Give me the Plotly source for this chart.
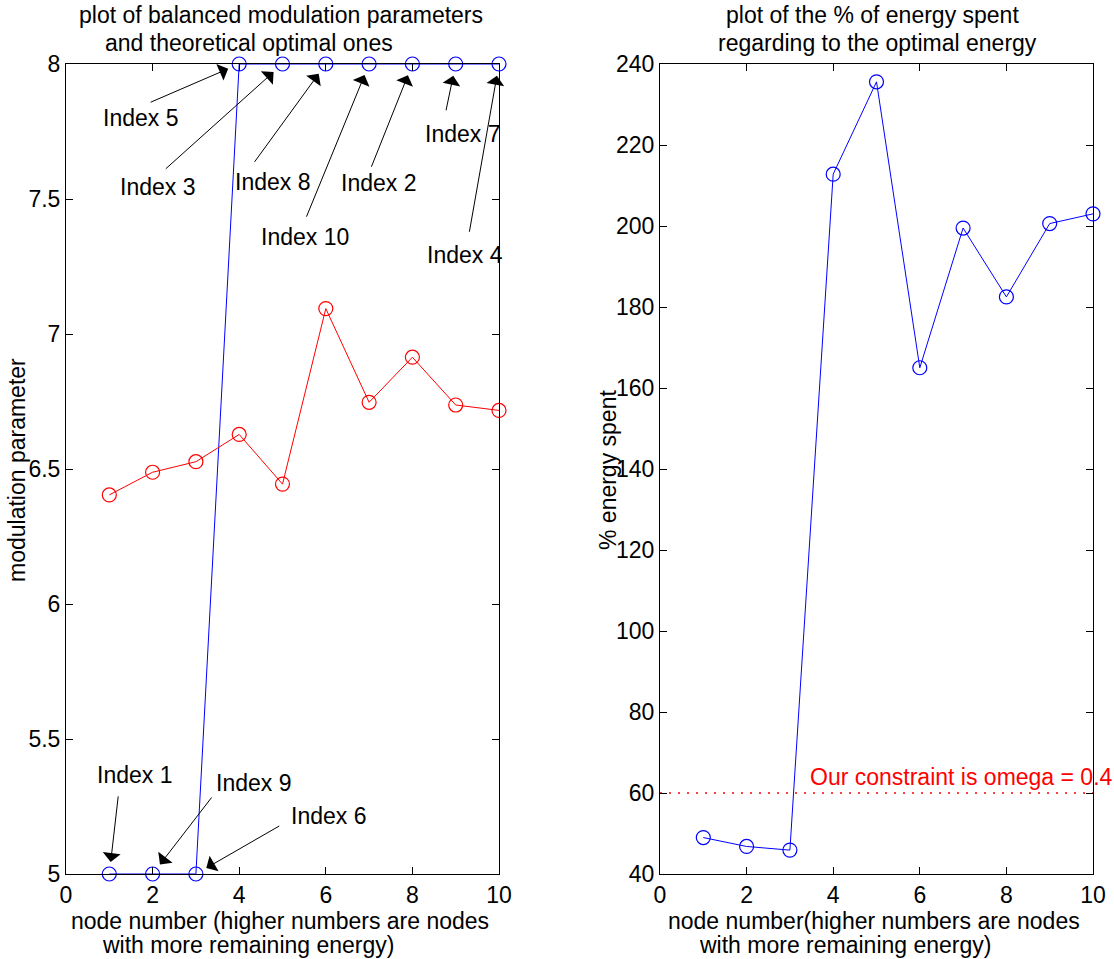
import plotly.graph_objects as go

# ---------------- data ----------------
nodes = [1, 2, 3, 4, 5, 6, 7, 8, 9, 10]
balanced_param = [5, 5, 5, 8, 8, 8, 8, 8, 8, 8]
optimal_param = [6.404, 6.488, 6.527, 6.628, 6.444, 7.094, 6.747, 6.914, 6.737, 6.717]
energy_spent_pct = [49.0, 46.8, 45.9, 212.8, 235.6, 165.0, 199.5, 182.5, 200.6, 203.0]
index_labels = [1, 9, 6, 5, 3, 8, 10, 2, 7, 4]
constraint_level = 60
constraint_x = [0, 10]
left_yticks = [5, 5.5, 6, 6.5, 7, 7.5, 8]
right_yticks = [40, 60, 80, 100, 120, 140, 160, 180, 200, 220, 240]
xticks = [0, 2, 4, 6, 8, 10]

# ---------------- layout helpers ----------------
W, H = 1114, 959
FONT = "Liberation Sans, Arial, Helvetica, sans-serif"
FS = 23


def px(x):
    return x / W


def py(y):
    return 1 - y / H


BLUE = "#0000ff"
RED = "#ff0000"

fig = go.Figure()

fig.add_trace(go.Scatter(
    x=nodes, y=balanced_param, mode="lines+markers",
    line=dict(color=BLUE, width=1),
    marker=dict(symbol="circle-open", size=14, color=BLUE, line=dict(width=1.2)),
    cliponaxis=False, xaxis="x", yaxis="y", showlegend=False))
fig.add_trace(go.Scatter(
    x=nodes, y=optimal_param, mode="lines+markers",
    line=dict(color=RED, width=1),
    marker=dict(symbol="circle-open", size=14, color=RED, line=dict(width=1.2)),
    cliponaxis=False, xaxis="x", yaxis="y", showlegend=False))

fig.add_trace(go.Scatter(
    x=nodes, y=energy_spent_pct, mode="lines+markers",
    line=dict(color=BLUE, width=1),
    marker=dict(symbol="circle-open", size=14, color=BLUE, line=dict(width=1.2)),
    cliponaxis=False, xaxis="x2", yaxis="y2", showlegend=False))
fig.add_trace(go.Scatter(
    x=constraint_x, y=[constraint_level] * len(constraint_x), mode="lines",
    line=dict(color=RED, width=1.5, dash="2px,7px"),
    xaxis="x2", yaxis="y2", showlegend=False))

axis_common = dict(
    showline=True, linecolor="black", linewidth=1, mirror="allticks",
    ticks="inside", ticklen=7, tickcolor="black", tickwidth=1,
    showgrid=False, zeroline=False, automargin=False,
    tickfont=dict(family=FONT, size=FS, color="black"),
)

fig.update_layout(
    width=W, height=H,
    margin=dict(l=0, r=0, t=0, b=0, pad=0, autoexpand=False),
    paper_bgcolor="white", plot_bgcolor="white",
    font=dict(family=FONT, size=FS, color="black"),
    xaxis=dict(domain=[px(66), px(499)], range=[0, 10], tickvals=xticks,
               anchor="y", **axis_common),
    yaxis=dict(domain=[py(874), py(64)], range=[5, 8], tickvals=left_yticks,
               anchor="x", **axis_common),
    xaxis2=dict(domain=[px(660), px(1093)], range=[0, 10], tickvals=xticks,
                anchor="y2", **axis_common),
    yaxis2=dict(domain=[py(874), py(64)], range=[40, 240], tickvals=right_yticks,
                anchor="x2", **axis_common),
)

annotations = []

# arrow tails and label centres (data coords of the left axes), per node
tail_x = [1.21, 3.39, 4.96, 1.92, 2.27, 4.33, 5.54, 7.04, 8.77, 9.31]
tail_y = [5.293, 5.289, 5.181, 7.856, 7.607, 7.632, 7.429, 7.614, 7.823, 7.373]
label_x = [1.58, 4.33, 6.06, 1.71, 2.11, 4.78, 5.52, 7.21, 9.15, 9.21]
label_y = [5.367, 5.338, 5.215, 7.80, 7.546, 7.564, 7.358, 7.56, 7.74, 7.293]

for i, n in enumerate(nodes):
    annotations.append(dict(
        x=n, y=balanced_param[i], xref="x", yref="y",
        ax=tail_x[i], ay=tail_y[i], axref="x", ayref="y",
        text="", showarrow=True, arrowhead=1, arrowsize=3, arrowwidth=1,
        arrowcolor="black", standoff=12))
    annotations.append(dict(
        x=label_x[i], y=label_y[i], xref="x", yref="y",
        text=f"Index {index_labels[i]}", showarrow=False,
        xanchor="center", yanchor="middle",
        font=dict(family=FONT, size=FS, color="black")))

annotations.append(dict(
    x=3.41, y=64, xref="x2", yref="y2", text="Our constraint is omega = 0.4",
    showarrow=False, xanchor="left", yanchor="middle",
    font=dict(family=FONT, size=FS, color=RED)))

# titles / axis labels
text_items = [
    ("plot of balanced modulation parameters", 281, 15, 0),
    ("and theoretical optimal ones", 249, 43, 0),
    ("plot of the % of energy spent", 872, 15, 0),
    ("regarding to the optimal energy", 878, 43, 0),
    ("node number (higher numbers are nodes", 280, 921, 0),
    ("with more remaining energy)", 248, 945, 0),
    ("node number(higher numbers are nodes", 874, 921, 0),
    ("with more remaining energy)", 845, 945, 0),
    ("modulation parameter", 17, 470, -90),
    ("% energy spent", 608, 470, -90),
]
for txt, x, y, ang in text_items:
    annotations.append(dict(
        x=px(x), y=py(y), xref="paper", yref="paper", text=txt,
        showarrow=False, xanchor="center", yanchor="middle", textangle=ang,
        font=dict(family=FONT, size=FS, color="black")))

fig.update_layout(annotations=annotations)

fig.write_html("out.html")
